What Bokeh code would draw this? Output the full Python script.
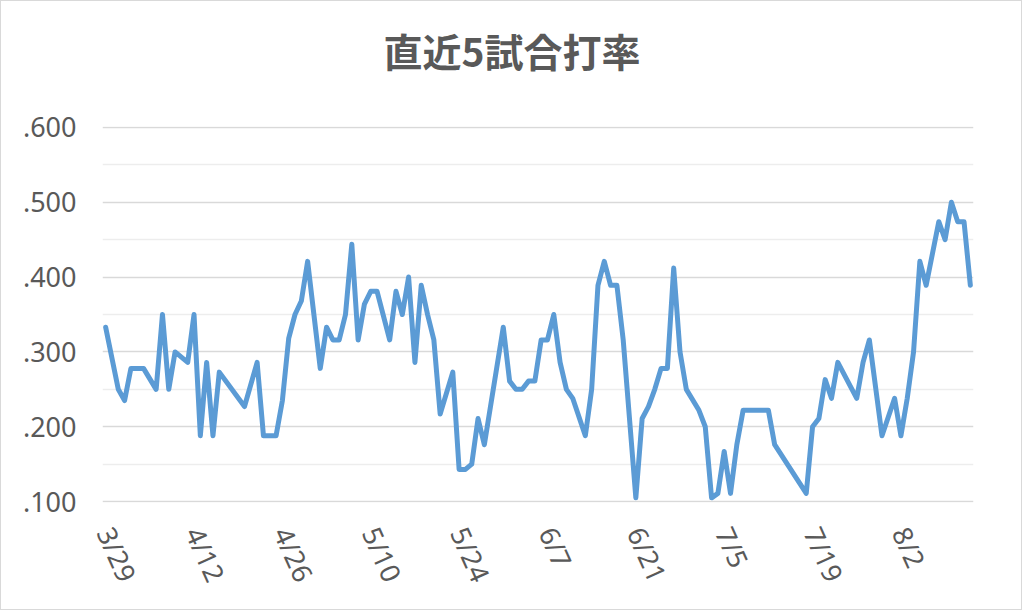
import pandas as pd
from bokeh.plotting import figure
from bokeh.models import Range1d, FixedTicker, CustomJSTickFormatter, Title
from bokeh.embed import file_html
from bokeh.resources import INLINE

TITLE = "直近5試合打率"
YEAR = 2019

game_dates = [
    "3/29", "3/31", "4/1", "4/2", "4/4", "4/6", "4/7", "4/8", "4/9", "4/11",
    "4/12", "4/13", "4/14", "4/15", "4/16", "4/20", "4/22", "4/23", "4/25", "4/26",
    "4/27", "4/28", "4/29", "4/30", "5/2", "5/3", "5/4", "5/5", "5/6", "5/7",
    "5/8", "5/9", "5/10", "5/11", "5/13", "5/14", "5/15", "5/16", "5/17", "5/18",
    "5/19", "5/20", "5/21", "5/23", "5/24", "5/25", "5/26", "5/27", "5/28", "5/31",
    "6/1", "6/2", "6/3", "6/4", "6/5", "6/6", "6/7", "6/8", "6/9", "6/10",
    "6/11", "6/13", "6/14", "6/15", "6/16", "6/17", "6/18", "6/19", "6/21", "6/22",
    "6/23", "6/24", "6/25", "6/26", "6/27", "6/28", "6/29", "7/1", "7/2", "7/3",
    "7/4", "7/5", "7/6", "7/7", "7/8", "7/12", "7/13", "7/18", "7/19", "7/20",
    "7/21", "7/22", "7/23", "7/26", "7/27", "7/28", "7/30", "8/1", "8/2", "8/3",
    "8/4", "8/5", "8/6", "8/8", "8/9", "8/10", "8/11", "8/12", "8/13",
]
batting_avg = [
    0.333, 0.250, 0.235, 0.278, 0.278, 0.250, 0.350, 0.250, 0.300, 0.286,
    0.350, 0.188, 0.286, 0.188, 0.273, 0.227, 0.286, 0.188, 0.188, 0.235,
    0.318, 0.350, 0.368, 0.421, 0.278, 0.333, 0.316, 0.316, 0.350, 0.444,
    0.316, 0.364, 0.381, 0.381, 0.316, 0.381, 0.350, 0.400, 0.286, 0.389,
    0.350, 0.316, 0.217, 0.273, 0.143, 0.143, 0.150, 0.211, 0.176, 0.333,
    0.261, 0.250, 0.250, 0.261, 0.261, 0.316, 0.316, 0.350, 0.286, 0.250,
    0.238, 0.188, 0.250, 0.389, 0.421, 0.389, 0.389, 0.316, 0.105, 0.211,
    0.227, 0.250, 0.278, 0.278, 0.412, 0.300, 0.250, 0.222, 0.200, 0.105,
    0.111, 0.167, 0.111, 0.176, 0.222, 0.222, 0.176, 0.111, 0.200, 0.211,
    0.263, 0.238, 0.286, 0.238, 0.286, 0.316, 0.188, 0.238, 0.188, 0.238,
    0.300, 0.421, 0.389, 0.474, 0.450, 0.500, 0.474, 0.474, 0.389,
]
x_tick_dates = ["3/29", "4/12", "4/26", "5/10", "5/24", "6/7", "6/21", "7/5", "7/19", "8/2"]
y_ticks = [0.1, 0.2, 0.3, 0.4, 0.5, 0.6]
y_minor_ticks = [0.15, 0.25, 0.35, 0.45, 0.55]

def to_ts(md):
    m, d = md.split("/")
    return pd.Timestamp(year=YEAR, month=int(m), day=int(d))

start = to_ts(game_dates[0])
xs = [int((to_ts(d) - start).days) for d in game_dates]
tick_x = [int((to_ts(d) - start).days) for d in x_tick_dates]

TXT = "#595959"
W, H = 1022, 610
FL, FR, FT, FB = 101, 972, 125, 501   # frame edges in figure pixels

p = figure(width=W, height=H, output_backend="svg", toolbar_location=None,
           x_range=Range1d(-0.5, xs[-1] + 0.5),
           y_range=Range1d(y_ticks[0] - 0.0012, y_ticks[-1] + 0.0012),
           min_border_left=FL, min_border_right=W - FR,
           min_border_top=FT, min_border_bottom=H - FB,
           title=TITLE)
p.outline_line_color = None
p.background_fill_color = "white"
p.border_fill_color = "white"

# blank spacer between the title and the plot area
p.add_layout(Title(text=" ", text_font_size="1px", standoff=46), "above")

p.title.align = "left"
p.title.vertical_align = "bottom"
p.title.offset = 281
p.title.standoff = 0
p.title.text_font = "Noto Sans CJK JP"
p.title.text_font_size = "39px"
p.title.text_font_style = "bold"
p.title.text_color = TXT

p.line(xs, batting_avg, line_color="#5B9BD5", line_width=5, line_join="round", line_cap="round")

p.xaxis.ticker = FixedTicker(ticks=tick_x)
p.xaxis.major_label_overrides = {t: lab for t, lab in zip(tick_x, x_tick_dates)}
p.xaxis.major_label_orientation = -1.15
p.yaxis.ticker = FixedTicker(ticks=y_ticks, minor_ticks=y_minor_ticks)
p.yaxis.formatter = CustomJSTickFormatter(code="return tick.toFixed(3).replace(/^0/, '');")

for ax in (p.xaxis, p.yaxis):
    ax.axis_line_color = None
    ax.major_tick_line_color = None
    ax.minor_tick_line_color = None
    ax.major_tick_out = 0
    ax.major_tick_in = 0
    ax.major_label_text_font = "Noto Sans"
    ax.major_label_text_font_size = "27px"
    ax.major_label_text_color = TXT
p.yaxis.major_label_standoff = 22
p.xaxis.major_label_standoff = 26

p.xgrid.grid_line_color = None
p.ygrid.grid_line_color = "#D9D9D9"
p.ygrid.grid_line_width = 1.3
p.ygrid.minor_grid_line_color = "#EDEDED"
p.ygrid.minor_grid_line_width = 1.3

p.styles = {"border": "1px solid #D9D9D9"}

open("out.html", "w").write(file_html(p, INLINE))
